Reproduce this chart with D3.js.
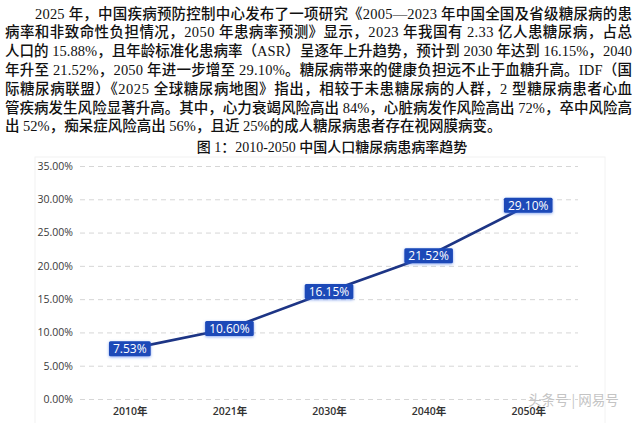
<!DOCTYPE html>
<html>
<head>
<meta charset="utf-8">
<script src="https://cdn.jsdelivr.net/npm/d3@7"></script>
<style>
body { margin: 0; background: #fff; }
svg { display: block; }
.para { font-family: "Liberation Serif", "Noto Sans CJK SC", serif; font-size: 14.5px; fill: #111; }
.tick text { font-family: "Open Sans", "Noto Sans CJK SC", sans-serif; }
</style>
</head>
<body>
<script>
// text above the chart, one entry per printed line
var paraLines = [
  "2025 年，中国疾病预防控制中心发布了一项研究《2005—2023 年中国全国及省级糖尿病的患",
  "病率和非致命性负担情况，2050 年患病率预测》显示，2023 年我国有 2.33 亿人患糖尿病，占总",
  "人口的 15.88%，且年龄标准化患病率（ASR）呈逐年上升趋势，预计到 2030 年达到 16.15%，2040",
  "年升至 21.52%，2050 年进一步增至 29.10%。糖尿病带来的健康负担远不止于血糖升高。IDF（国",
  "际糖尿病联盟）《2025 全球糖尿病地图》指出，相较于未患糖尿病的人群，2 型糖尿病患者心血",
  "管疾病发生风险显著升高。其中，心力衰竭风险高出 84%，心脏病发作风险高出 72%，卒中风险高",
  "出 52%，痴呆症风险高出 56%，且近 25%的成人糖尿病患者存在视网膜病变。"
];
var caption = "图 1：2010-2050 中国人口糖尿病患病率趋势";

var years = ["2010年", "2021年", "2030年", "2040年", "2050年"];
var rates = [7.53, 10.60, 16.15, 21.52, 29.10];
var yTicks = [0, 5, 10, 15, 20, 25, 30, 35];

var width = 640, height = 423;
var svg = d3.select("body").append("svg")
  .attr("width", width)
  .attr("height", height);

// paragraph, justified except the last line
svg.selectAll("text.para")
  .data(paraLines)
  .enter()
  .append("text")
  .attr("class", "para")
  .attr("x", function(d, i){ return i == 0 ? 35 : 5; })
  .attr("y", function(d, i){ return 18.5 + i * 18.8; })
  .attr("textLength", function(d, i){ return i < paraLines.length - 1 ? (i == 0 ? 597 : 627) : null; })
  .attr("lengthAdjust", "spacing")
  .style("font-weight", 500)
  .text(function(d){ return d; });

svg.append("text")
  .attr("class", "para")
  .attr("x", 332)
  .attr("y", 152)
  .attr("text-anchor", "middle")
  .style("font-size", "14px")
  .style("font-weight", 500)
  .text(caption);

// faint frame of the chart picture
svg.append("rect")
  .attr("x", 35).attr("y", 157)
  .attr("width", 570).attr("height", 270)
  .attr("fill", "none")
  .attr("stroke", "#f2f2f2");

var x = d3.scalePoint().domain(years).range([80, 578]).padding(0.5);
var y = d3.scaleLinear().domain([0, 35]).range([399, 166]);

var yAxis = svg.append("g")
  .attr("transform", "translate(80,0)")
  .call(d3.axisLeft(y).tickValues(yTicks)
    .tickSize(-498).tickPadding(7)
    .tickFormat(function(d){ return d3.format(".2f")(d) + "%"; }));
yAxis.select(".domain").remove();
yAxis.selectAll(".tick line")
  .attr("stroke", "#d6d6d6")
  .attr("stroke-dasharray", "5,4");
yAxis.selectAll(".tick text")
  .attr("fill", "#3a3a3a")
  .style("font-size", "10.5px");

var xAxis = svg.append("g")
  .attr("transform", "translate(0,399)")
  .call(d3.axisBottom(x).tickSize(0).tickPadding(9));
xAxis.select(".domain").remove();
xAxis.selectAll(".tick text")
  .attr("fill", "#333")
  .style("font-size", "10.5px")
  .style("font-weight", "600");

var defs = svg.append("defs");
var glow = defs.append("filter").attr("id", "glow")
  .attr("x", "-30%").attr("y", "-50%").attr("width", "160%").attr("height", "200%");
glow.append("feDropShadow")
  .attr("dx", 0).attr("dy", 1)
  .attr("stdDeviation", 1.6)
  .attr("flood-color", "#3a6ee8")
  .attr("flood-opacity", 0.6);

var line = d3.line()
  .x(function(d, i){ return x(years[i]); })
  .y(function(d){ return y(d); });

svg.append("path")
  .datum(rates)
  .attr("d", line)
  .attr("fill", "none")
  .attr("stroke", "#1d3585")
  .attr("stroke-width", 2.6);

var labels = svg.selectAll("g.lab")
  .data(rates)
  .enter()
  .append("g")
  .attr("class", "lab")
  .attr("transform", function(d, i){ return "translate(" + x(years[i]) + "," + y(d) + ")"; });

labels.append("text")
  .attr("class", "val")
  .attr("text-anchor", "middle")
  .attr("dy", "0.36em")
  .attr("fill", "#fff")
  .style("font-family", "'Open Sans', sans-serif")
  .style("font-size", "12px")
  .text(function(d){ return d3.format(".2f")(d) + "%"; });

labels.each(function(){
  var g = d3.select(this);
  var bb = g.select("text").node().getBBox();
  g.insert("rect", "text")
    .attr("x", bb.x - 4)
    .attr("y", -7.5)
    .attr("width", bb.width + 8)
    .attr("height", 15)
    .attr("rx", 1.5)
    .attr("fill", "#1a48b8")
    .attr("filter", "url(#glow)");
});

// watermark
svg.append("text")
  .attr("x", 528)
  .attr("y", 405)
  .attr("fill", "#c4c4c4")
  .style("font-family", "'Noto Sans CJK SC', sans-serif")
  .style("font-size", "13.5px")
  .text("头条号 | 网易号");
</script>
</body>
</html>
